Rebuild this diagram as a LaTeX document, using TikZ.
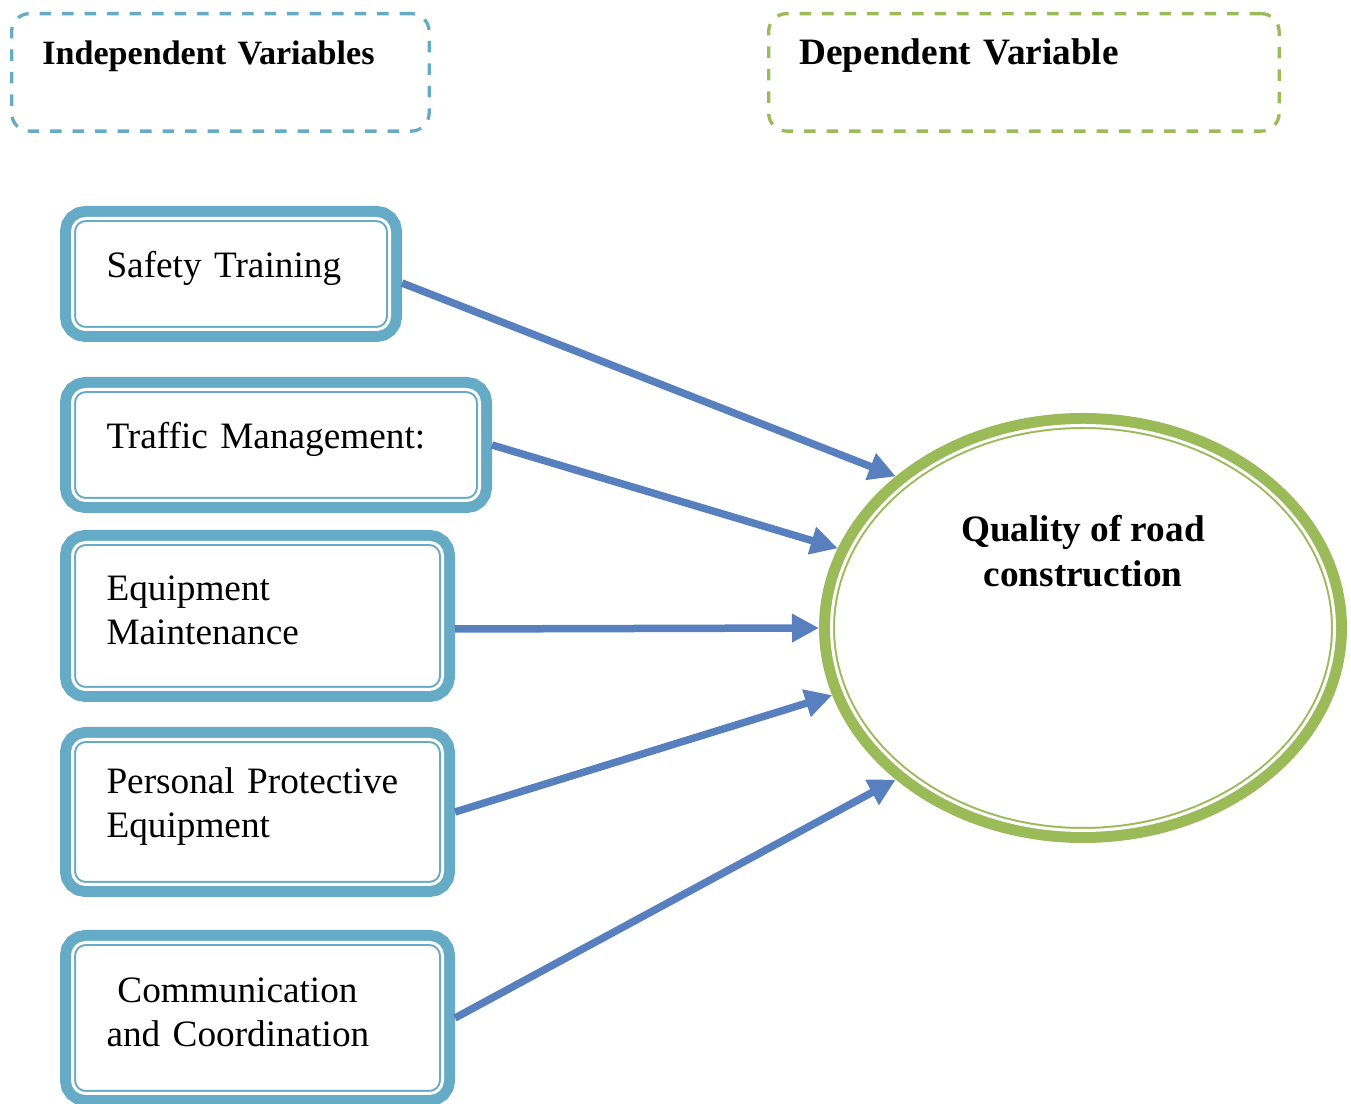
\documentclass[tikz,border=0pt]{standalone}
\usepackage{fontspec}
\setmainfont{Liberation Serif}
\usepackage{tikz}
\usetikzlibrary{positioning,shapes.geometric,arrows.meta}

\definecolor{ivblue}{HTML}{66ABC6}
\definecolor{dvgreen}{HTML}{9BBB59}
\definecolor{linkblue}{HTML}{5880BE}

\begin{document}
\begin{tikzpicture}
    [ every node/.style =
      { font = \fontsize{10.6}{12.5}\selectfont }
    , framed/.style =
      { draw = #1, fill = white, line width = .2mm
      , double = white, double distance = .3mm
      , preaction = {draw = #1, line width = 2.5mm}
      , outer sep = 1.25mm }
    , factor/.style =
      { framed = ivblue, rectangle, rounded corners = 1.3mm
      , align = left, inner xsep = .34cm, inner ysep = 0pt
      , execute at end node = {\endgraf\vspace{1.1mm}}
      , anchor = north west }
    , header/.style =
      { draw = #1, dashed, dash pattern = on 1.15mm off 1.1mm
      , line width = .33mm, rounded corners = 1.8mm
      , align = left, inner xsep = .3075cm, inner ysep = 0pt
      , text height = 5.1mm, text depth = 6.65mm, anchor = north west }
    , qlabel/.style =
      { font = \fontsize{10.6}{13}\selectfont\bfseries
      , align = center, yshift = .77cm }
    , link/.style =
      { draw = linkblue, line width = .75mm
      , -{Triangle[length=2.7mm, width=2.7mm]} }
    ]
    \useasboundingbox (0,0) rectangle (13.51,-11.04);

    % headings
    \node [header = ivblue, text width = 3.56cm,
           font = \fontsize{9.7}{12}\selectfont\bfseries]
          (indep) at (.1,-.12) {Independent Variables};
    \node [header = dvgreen, text width = 4.49cm,
           font = \fontsize{10.6}{12.5}\selectfont\bfseries]
          (dep) at (7.67,-.12) {Dependent Variable};

    % independent variables
    \node [factor, text width = 2.49cm, minimum height = 1.11cm]
          (safety) at (.6,-2.06) {Safety Training};
    \node [factor, text width = 3.39cm, minimum height = 1.11cm,
           below = .35cm of safety.south west, anchor = north west]
          (traffic) {Traffic Management:};
    \node [factor, text width = 3.02cm, minimum height = 1.47cm,
           below = .17cm of traffic.south west, anchor = north west]
          (equip) {Equipment\\Maintenance};
    \node [factor, text width = 3.02cm, minimum height = 1.45cm,
           below = .25cm of equip.south west, anchor = north west]
          (ppe) {Personal Protective\\Equipment};
    \node [factor, text width = 3.02cm, minimum height = 1.51cm,
           below = .33cm of ppe.south west, anchor = north west]
          (comm) {\hspace*{1.1mm}Communication\\and Coordination};

    % dependent variable
    \node [framed = dvgreen, ellipse, minimum width = 5.03cm,
           minimum height = 4.05cm, inner sep = 0pt,
           label = {[qlabel]center:{Quality of road\\construction}}]
          (quality) at (10.83,-6.28) {};

    \draw [link] ([yshift=-.09cm]safety.east) -- (quality.141);
    \draw [link] (traffic.east) -- (quality.162);
    \draw [link] ([yshift=-.13cm]equip.east) -- (quality.180);
    \draw [link] (ppe.east) -- (quality.195);
    \draw [link] (comm.east) -- (quality.219);
\end{tikzpicture}
\end{document}
